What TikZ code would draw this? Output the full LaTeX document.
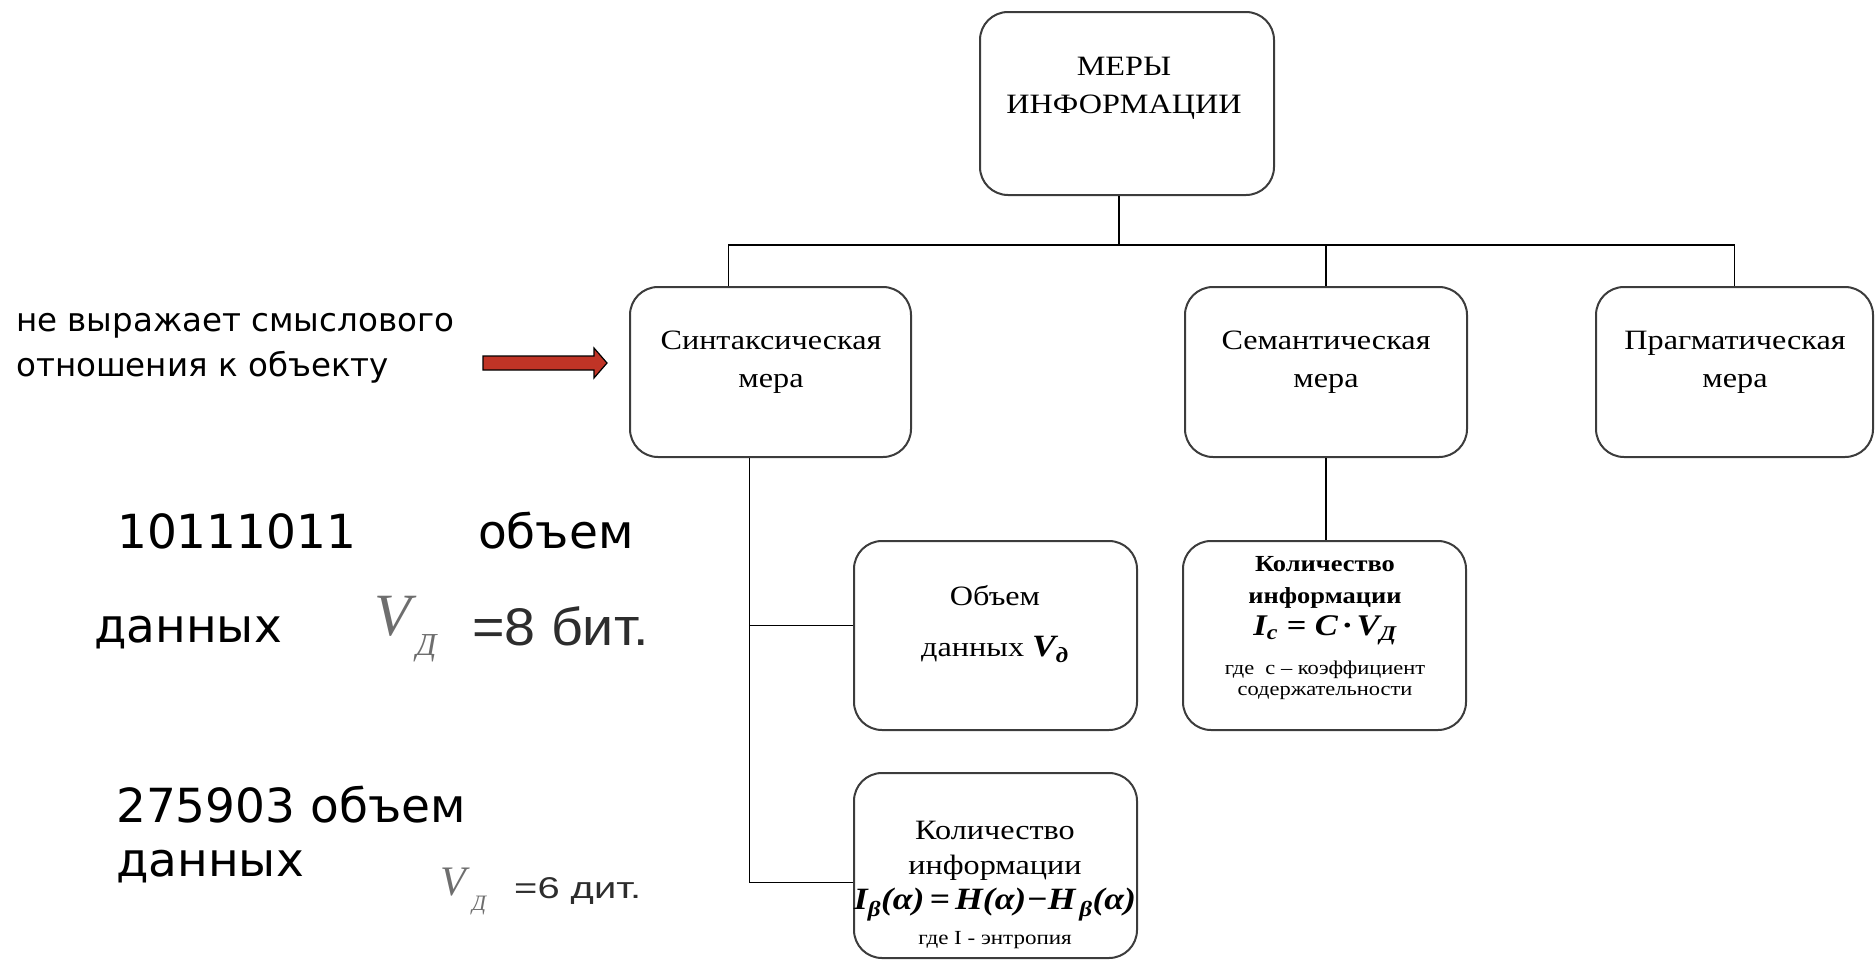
\documentclass[tikz,border=0pt]{standalone}
\usepackage{fontspec}
\setmainfont{Liberation Serif}
\newfontfamily\notefont{DejaVu Sans}
\newfontfamily\grayfont[FakeStretch=1.05]{Liberation Sans}
\newfontfamily\widegrayfont[FakeStretch=1.33]{Liberation Sans}
\newfontfamily\boxfont[FakeStretch=1.15]{Liberation Serif}
\usepackage{tikz}
\usepackage{xcolor}

\definecolor{arrowred}{RGB}{192,52,38}
\definecolor{boxgray}{RGB}{60,60,60}
\definecolor{lightv}{RGB}{110,110,110}
\definecolor{darktxt}{RGB}{45,45,45}

\tikzset{
    mbox/.style 2 args={draw=boxgray, line width=2pt, rounded corners=28pt, minimum width=#1, minimum height=#2},
    boxtext/.style={align=center, inner sep=0pt, font=\boxfont\fontsize{28}{38}\selectfont},
    note/.style={anchor=base west, inner sep=0pt, font=\notefont\fontsize{32.5}{44}\selectfont},
    big/.style={anchor=base west, inner sep=0pt, font=\notefont\fontsize{47}{54}\selectfont},
    vsym/.style={anchor=base west, inner sep=0pt, text=lightv},
    unit/.style={anchor=base west, inner sep=0pt, text=darktxt},
    link/.style={line width=1.5pt},
    redarrow/.style={fill=arrowred, draw=black, line width=1.2pt, line join=miter}
}

\begin{document}
\begin{tikzpicture}[x=1pt, y=-1pt]
        \useasboundingbox (0,0) rectangle (1876,961);

        \node[mbox={294pt}{183pt}] (mery) at (1127,103.5) {};
        \node[mbox={281pt}{170pt}] (sint) at (770.5,372) {};
        \node[mbox={282pt}{170pt}] (sem) at (1326,372) {};
        \node[mbox={277pt}{170pt}] (prag) at (1734.5,372) {};
        \node[mbox={283pt}{189pt}] (obem) at (995.5,635.5) {};
        \node[mbox={283pt}{185pt}] (kolsyn) at (995.5,865.5) {};
        \node[mbox={283pt}{189pt}] (kolsem) at (1324.5,635.5) {};

        \node[boxtext] (mery-t) at (1124,88) {МЕРЫ\\ИНФОРМАЦИИ};
        \node[boxtext] (sint-t) at (771,362) {Синтаксическая\\мера};
        \node[boxtext] (sem-t) at (1326,362) {Семантическая\\мера};
        \node[boxtext] (prag-t) at (1735,362) {Прагматическая\\мера};
        \node[boxtext] (obem-t) at (995,624) {Объем\\[13pt]данных {\fontsize{31}{31}\selectfont\bfseries\itshape V\textsubscript{д}}};
        \node[boxtext, font=\boxfont\fontsize{28}{35}\selectfont] (kolsyn-t) at (995,885)
            {Количество\\информации\\{\fontsize{31}{31}\selectfont\bfseries\itshape I\textsubscript{β}(α)\,=\,H(α)−H\textsubscript{\,β}(α)}\\{\fontsize{20}{20}\selectfont где I - энтропия}};
        \node[boxtext, font=\boxfont\fontsize{23}{32}\selectfont] (kolsem-t) at (1325,628)
            {\bfseries Количество\\\bfseries информации\\{\fontsize{30}{30}\selectfont\bfseries\itshape I\textsubscript{c} = C\,·\,V\textsubscript{Д}}\\[7pt]{\fontsize{19.5}{19.5}\selectfont где\ \ с – коэффициент}\\[-11pt]{\fontsize{19.5}{19.5}\selectfont содержательности}};

        % tree lines
        \coordinate (bus) at (0,245);
        \coordinate (trunk) at ([xshift=-21pt]sint.south);
        \draw[link] ([xshift=-8pt]mery.south) -- ([xshift=-8pt]mery.south |- bus);
        \draw[link] ([xshift=-42pt]sint.north) |- (prag.north |- bus) -- (prag.north);
        \draw[link] (sem.north) -- (sem.north |- bus);
        \draw[link] (trunk) |- ([yshift=-17pt]kolsyn.west);
        \draw[link] ([yshift=10pt]obem.west -| trunk) -- ([yshift=10pt]obem.west);
        \draw[link] (sem.south) -- (sem.south |- kolsem.north);

        % note and arrow
        \node[note] (note1) at (16,331) {не выражает смыслового};
        \node[note] (note2) at (16,376) {отношения к объекту};
        \coordinate (tip) at ([xshift=-22pt, yshift=9pt]sint.west);
        \draw[redarrow] (tip) -- ++(-13,-15) -- ++(0,8) -- ++(-111,0) -- ++(0,14) -- ++(111,0) -- ++(0,8) -- cycle;

        % examples
        \node[big] (bits) at (117,548) {10111011};
        \node[big] (vol1) at (478,548) {объем};
        \node[big] (dat1) at (94,642) {данных};
        \node[vsym, font=\fontsize{60}{60}\selectfont\itshape] (v1) at (374,635) {V};
        \node[vsym, font=\fontsize{32}{32}\selectfont\itshape] (d1) at (416,655) {Д};
        \node[unit, font=\grayfont\fontsize{53}{53}\selectfont] (u1) at (472,645) {=8 бит.};

        \node[big] (digs) at (116,822) {275903 объем};
        \node[big] (dat2) at (116,876) {данных};
        \node[vsym, font=\fontsize{42}{42}\selectfont\itshape] (v2) at (440,895) {V};
        \node[vsym, font=\fontsize{22}{22}\selectfont\itshape] (d2) at (472,910) {Д};
        \node[unit, font=\widegrayfont\fontsize{30}{30}\selectfont] (u2) at (514,898) {=6 дит.};
    \end{tikzpicture}
\end{document}
